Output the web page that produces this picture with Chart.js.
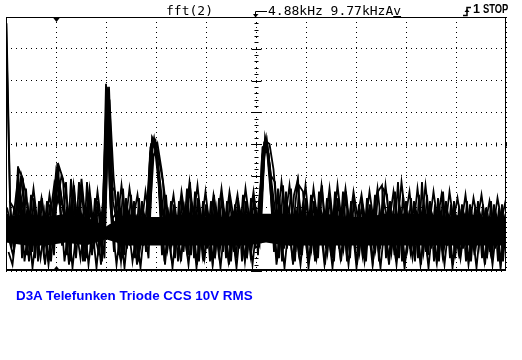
<!DOCTYPE html>
<html>
<head>
<meta charset="utf-8">
<script src="https://cdn.jsdelivr.net/npm/chart.js@4.4.1/dist/chart.umd.min.js"></script>
<style>
  body { margin: 0; background: #fff; }
  #wrap { position: relative; width: 522px; height: 360px; overflow: hidden; background: #fff; }
  #wrap canvas { position: absolute; left: 0; top: 0; }
  .hdr { position: absolute; top: 4px; font: 13px/13px "DejaVu Sans Mono", monospace; color: #000; white-space: pre; }
  .stat { position: absolute; top: 3px; font: bold 12.5px/13px "Liberation Sans", Arial, sans-serif; color: #000; white-space: pre; transform-origin: 0 0; }
  #caption { position: absolute; left: 16px; top: 289px; font: bold 13.4px/13.4px "Liberation Sans", Arial, sans-serif; color: #0000ff; white-space: pre; }
</style>
</head>
<body>
<div id="wrap">
  <canvas id="fftChart" width="522" height="360"></canvas>
  <div class="hdr" style="left:166px">fft(2)</div>
  <div class="hdr" style="left:268px">4.88kHz 9.77kHzA<span style="text-decoration:underline">v</span></div>
  <div class="stat" style="left:473px">1</div>
  <div class="stat" style="left:483px; transform: scaleX(0.75);">STOP</div>
  <div id="caption">D3A Telefunken Triode CCS 10V RMS</div>
</div>
<script>
// span 0 .. 9.77 kHz, 10 divisions; level in dB, 10 dB/div
const spanHz = 9770;
const divHz = 977;
const markerHz = 977;
const levelMin = -80;
const levelMax = 0;

// overlaid averaged sweeps, one value per bin (bin = spanHz / 125)
const traceA = [-1, -58, -74, -47, -76, -54, -73, -57, -77, -57, -71, -59, -75, -46, -72, -52, -77, -53, -70, -54,
  -76, -56, -73, -58, -77, -21, -56, -74, -55, -76, -57, -72, -58, -77, -58, -74, -43, -38, -47, -75,
  -56, -73, -59, -77, -57, -71, -52, -76, -57, -73, -59, -77, -56, -72, -56, -76, -57, -74, -57, -77,
  -58, -71, -57, -75, -44, -38, -51, -74, -54, -77, -55, -72, -56, -51, -75, -57, -72, -58, -76, -53,
  -73, -56, -77, -57, -72, -55, -76, -57, -74, -58, -77, -59, -73, -55, -53, -76, -58, -71, -52, -77,
  -58, -73, -58, -76, -52, -74, -58, -77, -57, -72, -58, -76, -58, -73, -59, -77, -59, -72, -58, -76,
  -60, -74, -59, -77, -59, -73];
const traceB = [-60, -66, -59, -48, -51, -75, -56, -76, -58, -72, -58, -77, -61, -47, -51, -75, -51, -73, -52, -77,
  -52, -74, -57, -71, -58, -22, -53, -55, -75, -54, -73, -56, -76, -57, -72, -59, -40, -39, -45, -52,
  -74, -58, -76, -58, -72, -54, -75, -55, -77, -58, -73, -58, -76, -57, -74, -58, -77, -59, -73, -56,
  -76, -57, -73, -58, -46, -39, -50, -52, -76, -53, -73, -54, -77, -53, -55, -74, -56, -77, -55, -72,
  -57, -75, -55, -73, -55, -77, -58, -72, -59, -76, -57, -73, -56, -77, -54, -56, -74, -55, -76, -56,
  -72, -57, -77, -56, -74, -56, -73, -59, -77, -55, -72, -59, -76, -60, -73, -58, -77, -60, -72, -59,
  -76, -58, -73, -60, -77, -61];
const traceC = [-66, -70, -63, -55, -66, -60, -74, -62, -68, -61, -77, -64, -49, -58, -60, -70, -57, -76, -60, -67,
  -59, -75, -62, -69, -64, -23, -62, -69, -60, -75, -61, -66, -63, -73, -62, -67, -38, -41, -55, -65,
  -61, -71, -63, -67, -60, -75, -59, -64, -61, -77, -62, -68, -60, -73, -61, -66, -62, -76, -61, -67,
  -62, -72, -61, -67, -40, -42, -57, -66, -59, -73, -60, -65, -61, -75, -60, -66, -62, -72, -60, -64,
  -61, -76, -62, -66, -60, -71, -63, -67, -62, -75, -61, -66, -62, -73, -58, -65, -62, -77, -60, -66,
  -62, -72, -61, -67, -59, -75, -62, -66, -61, -73, -62, -67, -63, -76, -62, -66, -63, -72, -62, -67,
  -63, -75, -62, -67, -63, -72];
const traceD = [-70, -75, -66, -50, -63, -77, -65, -71, -64, -78, -66, -70, -48, -56, -64, -78, -62, -69, -65, -77,
  -63, -70, -66, -78, -62, -22, -58, -65, -77, -64, -70, -65, -78, -64, -69, -66, -39, -44, -60, -78,
  -64, -70, -65, -77, -63, -69, -64, -78, -65, -70, -64, -77, -65, -69, -63, -78, -65, -71, -64, -77,
  -66, -70, -64, -62, -38, -45, -60, -77, -64, -70, -63, -78, -65, -69, -64, -77, -63, -70, -65, -78,
  -64, -69, -63, -77, -65, -70, -64, -78, -66, -69, -64, -77, -65, -70, -63, -78, -65, -69, -64, -77,
  -66, -70, -64, -78, -63, -69, -65, -77, -64, -70, -66, -78, -64, -69, -65, -77, -63, -70, -65, -78,
  -64, -69, -66, -77, -64, -70];
const traceE = [-2, -64, -71, -52, -68, -62, -75, -61, -70, -64, -73, -62, -52, -55, -67, -61, -74, -60, -69, -63,
  -72, -61, -68, -74, -66, -25, -60, -70, -63, -74, -60, -69, -62, -75, -64, -70, -41, -40, -52, -70,
  -62, -74, -61, -68, -63, -73, -60, -69, -62, -75, -63, -70, -61, -74, -62, -69, -64, -73, -60, -70,
  -63, -75, -62, -66, -41, -40, -55, -70, -62, -74, -61, -68, -63, -74, -60, -70, -62, -75, -61, -69,
  -63, -73, -60, -70, -62, -74, -61, -69, -64, -75, -62, -70, -61, -73, -60, -69, -63, -75, -61, -70,
  -62, -74, -63, -68, -61, -73, -62, -70, -63, -75, -62, -69, -64, -74, -62, -70, -63, -75, -61, -69,
  -64, -74, -62, -70, -63, -75];
const traceF = [-62, -72, -62, -54, -61, -73, -63, -69, -61, -74, -62, -70, -54, -52, -62, -72, -61, -68, -62, -74,
  -61, -69, -63, -62, -70, -24, -64, -62, -74, -61, -70, -62, -73, -61, -69, -63, -42, -39, -50, -62,
  -73, -61, -70, -62, -74, -60, -69, -62, -73, -61, -70, -63, -74, -61, -69, -62, -73, -61, -70, -63,
  -74, -61, -69, -72, -42, -41, -52, -62, -73, -61, -70, -62, -74, -60, -69, -62, -73, -61, -70, -62,
  -74, -61, -69, -62, -73, -61, -70, -63, -74, -61, -69, -62, -73, -61, -70, -62, -74, -61, -69, -63,
  -73, -61, -70, -62, -74, -61, -69, -62, -73, -61, -70, -63, -74, -61, -69, -62, -73, -61, -70, -63,
  -74, -62, -69, -63, -73, -62];
const traceG = [-74, -78, -67, -58, -77, -66, -79, -68, -76, -66, -78, -67, -56, -60, -77, -66, -79, -67, -76, -65,
  -78, -67, -79, -66, -76, -28, -66, -78, -67, -79, -66, -77, -68, -79, -66, -76, -44, -42, -60, -77,
  -67, -79, -66, -76, -68, -78, -66, -79, -67, -76, -66, -78, -67, -79, -66, -77, -68, -79, -66, -76,
  -67, -78, -66, -70, -42, -43, -60, -78, -67, -79, -66, -76, -68, -78, -66, -79, -67, -76, -66, -78,
  -68, -79, -66, -76, -67, -78, -66, -79, -67, -77, -66, -78, -68, -79, -66, -76, -67, -78, -66, -79,
  -68, -76, -66, -78, -67, -79, -66, -77, -68, -78, -66, -79, -67, -76, -66, -78, -68, -79, -66, -77,
  -67, -78, -66, -79, -68, -76];
const traceH = [-58, -60, -66, -50, -55, -64, -54, -65, -57, -66, -56, -64, -58, -50, -54, -64, -53, -65, -51, -64,
  -54, -66, -55, -65, -60, -26, -50, -64, -53, -65, -54, -63, -56, -66, -55, -64, -44, -40, -48, -58,
  -64, -56, -66, -55, -64, -52, -63, -53, -65, -55, -66, -56, -64, -54, -65, -55, -63, -56, -66, -54,
  -64, -55, -65, -58, -39, -40, -48, -64, -52, -63, -53, -65, -52, -64, -53, -66, -54, -64, -53, -65,
  -54, -66, -53, -64, -54, -65, -55, -63, -56, -65, -55, -64, -54, -66, -53, -64, -55, -65, -52, -63,
  -55, -66, -54, -64, -53, -65, -55, -64, -56, -66, -55, -64, -57, -65, -56, -66, -57, -64, -56, -65,
  -58, -66, -57, -64, -58, -66];

// solid core of the persisted noise floor, one value every 5 bins
const floorTop = [-63, -62, -63, -62, -63, -66, -62, -63, -63, -62, -63, -63, -62, -62, -62, -63, -62, -63, -63, -62,
  -62, -62, -63, -62, -63, -63];
const floorBottom = [-71, -72, -72, -71, -72, -70, -72, -72, -72, -72, -72, -72, -72, -71, -72, -72, -72, -72, -72, -72,
  -72, -72, -72, -72, -72, -72];

const traces = [traceA, traceB, traceC, traceD, traceE, traceF, traceG, traceH];
// where each sweep starts inside a bin, in eighths of a bin
const sweepOffsets = [0, 2, 4, 6, 1, 3, 5, 7];
const binHz = spanHz / 125;

function toPoints(values, k) {
    return values.map((v, i) => ({ x: (i + sweepOffsets[k] / 8) * binHz, y: v }));
}

function floorPoints(values) {
    return values.map((v, j) => ({ x: j * 5 * binHz, y: v }));
}

const scopeFrame = {
    id: 'scopeFrame',
    beforeDatasetsDraw(chart) {
        const { ctx, scales: { x, y } } = chart;
        const cx = Math.round(x.getPixelForValue(spanHz / 2)) + 0.5;
        const cy = Math.round(y.getPixelForValue((levelMin + levelMax) / 2)) + 0.5;
        ctx.save();
        ctx.strokeStyle = '#000';
        ctx.lineWidth = 1;
        ctx.beginPath();
        // minor ticks on the centre lines
        for (let n = 0; n <= 50; n++) {
            const px = Math.round(x.getPixelForValue(n * divHz / 5)) + 0.5;
            ctx.moveTo(px, cy - 2);
            ctx.lineTo(px, cy + 2);
        }
        for (let n = 0; n <= 40; n++) {
            const d = levelMin + n * 2;
            const py = Math.round(y.getPixelForValue(d)) + 0.5;
            const w = n % 5 === 0 ? 5 : 2;
            ctx.moveTo(cx - w, py);
            ctx.lineTo(cx + w, py);
        }
        ctx.stroke();
        ctx.restore();
    },
    afterDraw(chart) {
        const { ctx, chartArea: a, scales: { x } } = chart;
        ctx.save();
        ctx.strokeStyle = '#000';
        ctx.fillStyle = '#000';
        ctx.lineWidth = 1;
        ctx.strokeRect(a.left + 0.5, a.top + 0.5, a.right - a.left - 1, a.bottom - a.top - 1);
        ctx.fillRect(a.left, a.bottom - 2, a.right - a.left, 2);

        // marker triangles
        const mx = Math.round(x.getPixelForValue(markerHz)) + 0.5;
        ctx.beginPath();
        ctx.moveTo(mx - 4, a.top); ctx.lineTo(mx + 4, a.top); ctx.lineTo(mx, a.top + 5);
        ctx.closePath(); ctx.fill();
        ctx.beginPath();
        ctx.moveTo(mx - 4, a.bottom); ctx.lineTo(mx + 4, a.bottom); ctx.lineTo(mx, a.bottom - 5);
        ctx.closePath(); ctx.fill();

        // offset arrow in the header
        ctx.beginPath();
        ctx.moveTo(267, 11.5); ctx.lineTo(255.5, 11.5); ctx.lineTo(255.5, 15);
        ctx.stroke();
        ctx.beginPath();
        ctx.moveTo(253, 14); ctx.lineTo(258.5, 14); ctx.lineTo(255.5, 17.5);
        ctx.closePath(); ctx.fill();

        // rising slope symbol
        ctx.lineWidth = 1.5;
        ctx.beginPath();
        ctx.moveTo(463, 15.5); ctx.lineTo(467, 15.5); ctx.lineTo(467, 7.5); ctx.lineTo(471, 7.5);
        ctx.stroke();
        ctx.beginPath();
        ctx.moveTo(464.5, 12); ctx.lineTo(469.5, 12); ctx.lineTo(467, 9);
        ctx.closePath(); ctx.fill();
        ctx.restore();
    }
};

const floorSets = [
    { data: floorPoints(floorBottom), borderWidth: 0, pointRadius: 0, fill: false },
    { data: floorPoints(floorTop), borderWidth: 0, pointRadius: 0, fill: '-1', backgroundColor: '#000' }
];

new Chart(document.getElementById('fftChart'), {
    type: 'line',
    data: {
        datasets: floorSets.concat(traces.map((t, k) => ({
            data: toPoints(t, k),
            borderColor: '#000',
            borderWidth: 1.8,
            pointRadius: 0,
            tension: 0,
            fill: false
        })))
    },
    options: {
        responsive: false,
        animation: false,
        devicePixelRatio: 1,
        layout: { padding: { left: 6, top: 17, right: 16, bottom: 89 } },
        plugins: { legend: { display: false }, tooltip: { enabled: false } },
        scales: {
            x: {
                type: 'linear', min: 0, max: spanHz,
                ticks: { display: false, stepSize: divHz },
                grid: { color: '#000', lineWidth: 1, drawTicks: false },
                border: { display: false, dash: [1, 4] }
            },
            y: {
                min: levelMin, max: levelMax,
                ticks: { display: false, stepSize: 10 },
                grid: { color: '#000', lineWidth: 1, drawTicks: false },
                border: { display: false, dash: [1, 4] }
            }
        }
    },
    plugins: [scopeFrame]
});
</script>
</body>
</html>
